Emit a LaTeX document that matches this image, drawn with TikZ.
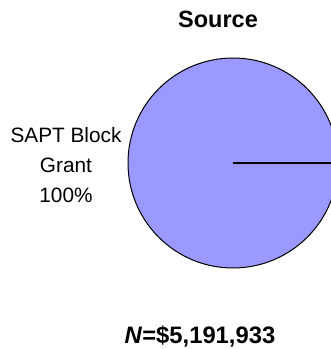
\documentclass[tikz,border=0pt]{standalone}
\usepackage{fontspec}
\setmainfont{Liberation Sans}
\definecolor{piefill}{HTML}{9999FF}

\begin{document}
\begin{tikzpicture}[x=1pt,y=1pt,
  slice/.style={circle,draw,line width=1pt,fill=piefill,minimum size=210pt,inner sep=0pt},
  label/.style={align=center,font=\fontsize{20.8}{30}\selectfont}]
\useasboundingbox (0,0) rectangle (331,349);
\clip (0,0) rectangle (331,349);
\node [font=\fontsize{23.5}{28}\selectfont\bfseries] (title) at (218,330) {Source};
\node [slice] (pie) at (233,186) {};
\draw [line width=1.2pt] (pie.center) -- (pie.east);
\node [label] (grant) at (66,184) {SAPT Block\\Grant\\100\%};
\node [font=\fontsize{23.8}{28}\selectfont\bfseries] (total) at (200,12) {\textit{N}=\$5,191,933};
\end{tikzpicture}
\end{document}
